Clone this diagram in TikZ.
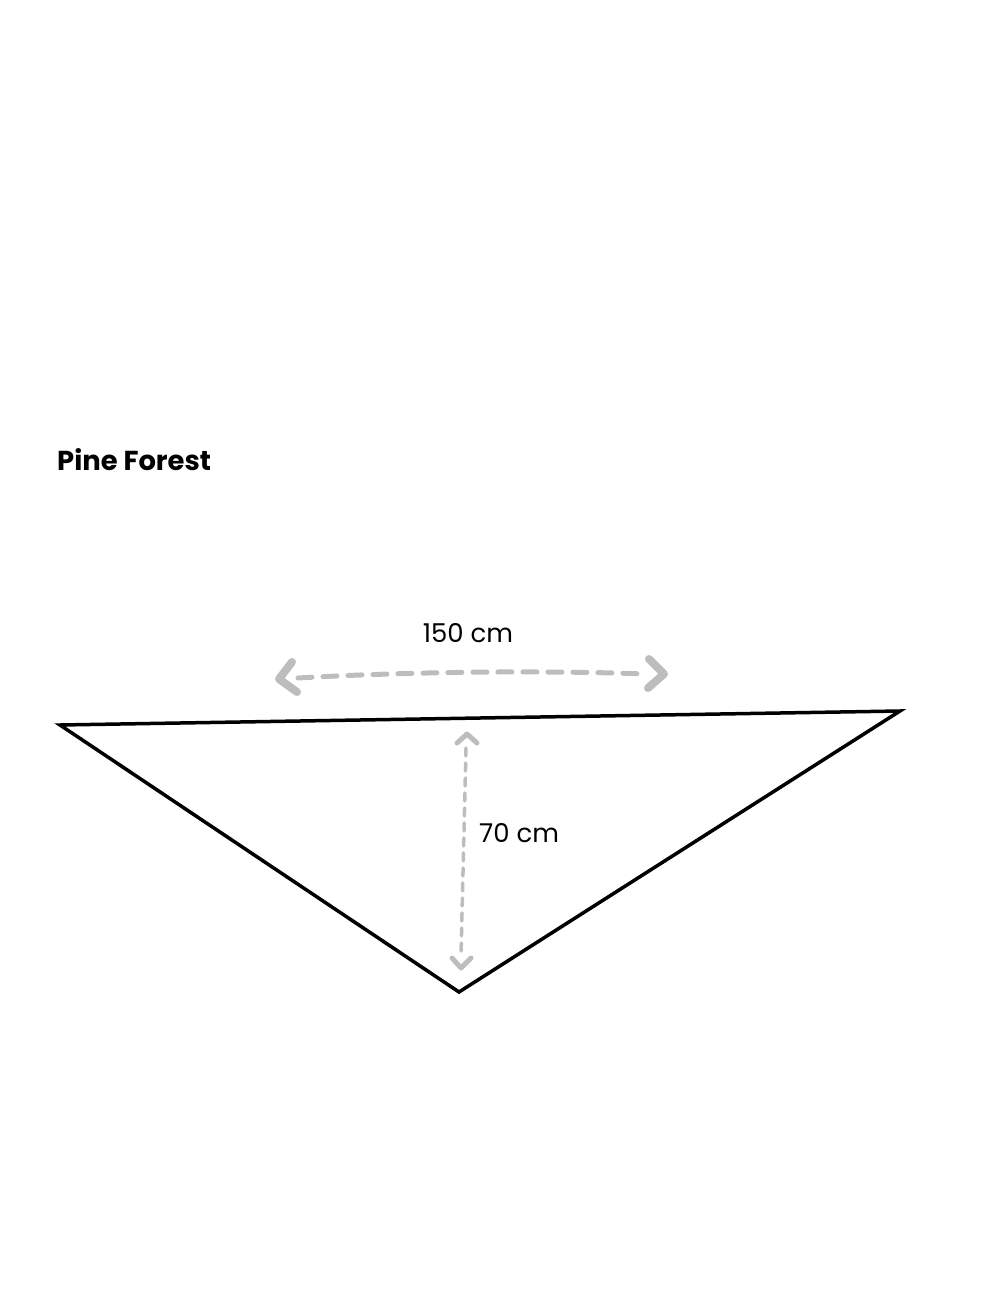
\documentclass[tikz,border=0pt]{standalone}
\usepackage{fontspec}
\setmainfont{Poppins}
\definecolor{dimgray}{RGB}{189,189,189}
\tikzset{
  edge/.style={line width=3.5bp,line join=miter},
  measure/.style={dimgray,line width=5bp,dash pattern=on 14bp off 11bp,line cap=round},
  measurev/.style={dimgray,line width=3.5bp,dash pattern=on 8bp off 7bp,line cap=round},
  chevron/.style={dimgray,line width=8bp,line cap=round,line join=round},
  chevronv/.style={dimgray,line width=5bp,line cap=round,line join=round},
  label/.style={inner sep=0pt,font=\fontsize{26}{30}\selectfont}
}
\begin{document}
\begin{tikzpicture}[x=1bp,y=-1bp]
  \useasboundingbox (0,0) rectangle (980,1307);
  % title
  \node (Title) at (57,460) [anchor=west,inner sep=0pt,font=\fontsize{27.5}{30}\selectfont\bfseries] {Pine Forest};
  % corners
  \coordinate (Left) at (60,725);
  \coordinate (Right) at (900,711);
  \coordinate (Bottom) at (459,992);
  \draw [edge] (Left) -- (Right) -- (Bottom) -- cycle;
  % width
  \coordinate (W0) at (279,679);
  \coordinate (W1) at (664,674);
  \draw [measure] (298,678) ..controls (400,672) and (540,670) .. (645,674);
  \draw [chevron] (292,662) -- (W0) -- (297,692);
  \draw [chevron] (649,659) -- (W1) -- (648,688);
  \node (Width) at (468,633) [label] {150 cm};
  % height
  \coordinate (H0) at (467,734);
  \coordinate (H1) at (461,968);
  \draw [measurev] (466,748) -- (461,955);
  \draw [chevronv] (457,743) -- (H0) -- (477,743);
  \draw [chevronv] (452,958) -- (H1) -- (471,958);
  \node (Height) at (479,833) [label,anchor=west] {70 cm};
\end{tikzpicture}
\end{document}
